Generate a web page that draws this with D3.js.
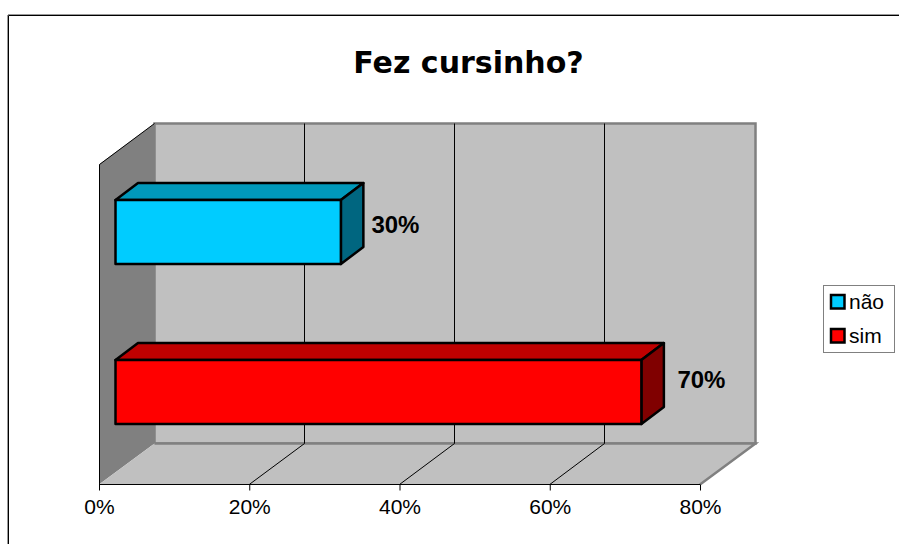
<!DOCTYPE html>
<html>
<head>
<meta charset="utf-8">
<script src="https://cdn.jsdelivr.net/npm/d3@7"></script>
<style>
html, body { margin: 0; padding: 0; background: #fff; }
svg { display: block; }
text { font-family: "Liberation Sans", Arial, sans-serif; fill: #000; }
</style>
</head>
<body>
<div id="chart"></div>
<script>
var categories = ['não', 'sim']
var values = [30, 70]
var ticks = [0, 20, 40, 60, 80]
var title = 'Fez cursinho?'

var colors = {'não': ['#00ccff', '#0099bb', '#006680'], 'sim': ['#ff0000', '#bf0000', '#800000']}

var svg = d3.select('#chart').append('svg').attr('width', 899).attr('height', 544)

// depth of the 3d box, in px
var dx = 55.5, dy = -41
var barDx = 22.5, barDy = -17
var barInset = 16.5

var x = d3.scaleLinear().domain([0, 80]).range([99, 700])
var y = d3.scaleBand().domain(categories).range([152, 472]).paddingInner(0.6).paddingOuter(0.3)
var plotTop = 164.5, plotBottom = 484.5

// label nudges off the bar end, the two labels do not sit alike
var labelGap = [8, 13.5]
var labelBase = [1, -4]

var poly = d3.line()
var crisp = function(v) { return Math.floor(v) + 0.5 }

// frame, only top and left are visible
svg.append('path').attr('d', 'M899,14.5H8').attr('fill', 'none').attr('stroke', '#999').attr('stroke-width', 1)
svg.append('path').attr('d', 'M8.5,544V15.5H899').attr('fill', 'none').attr('stroke', '#000').attr('stroke-width', 1)
svg.append('path').attr('d', 'M7.5,544V15').attr('fill', 'none').attr('stroke', '#999').attr('stroke-width', 1)

svg.append('text').attr('x', 468.5).attr('y', 72.5).attr('text-anchor', 'middle')
  .style('font-family', '"DejaVu Sans"').style('font-weight', 'bold').style('font-size', '30px').text(title)

var backL = x(0) + dx, backR = x(80) + dx, backT = plotTop + dy, backB = plotBottom + dy

// back wall
svg.append('path')
  .attr('d', poly([[backL, backT], [backR, backT], [backR, backB], [backL, backB]]) + 'Z')
  .attr('fill', '#c0c0c0').attr('stroke', '#808080').attr('stroke-width', 2.5)

// left wall
svg.append('path')
  .attr('d', poly([[x(0), plotTop], [backL, backT], [backL, backB], [x(0), plotBottom]]) + 'Z')
  .attr('fill', '#808080')
svg.append('path')
  .attr('d', poly([[backL, backT], [crisp(x(0)), plotTop], [crisp(x(0)), plotBottom]]))
  .attr('fill', 'none').attr('stroke', '#000').attr('stroke-width', 1)

// floor
svg.append('path')
  .attr('d', poly([[x(0), plotBottom], [x(80), plotBottom], [backR, backB], [backL, backB]]) + 'Z')
  .attr('fill', '#c0c0c0')
svg.append('path')
  .attr('d', poly([[x(80), plotBottom], [backR, backB], [backL, backB]]))
  .attr('fill', 'none').attr('stroke', '#808080').attr('stroke-width', 2.5)

// gridlines
var inner = ticks.slice(1, -1)
svg.selectAll('path.grid').data(inner).enter().append('path').attr('class', 'grid')
  .attr('d', function(d) {
    var gx = crisp(x(d) + dx - 0.6)
    return poly([[x(d), plotBottom], [gx, backB], [gx, backT]])
  })
  .attr('fill', 'none').attr('stroke', '#000').attr('stroke-width', 1)

// x axis
var axis = d3.axisBottom(x).tickValues(ticks).tickSize(6).tickPadding(9).tickFormat(function(d) { return d + '%' })
var axisSel = svg.append('g').attr('transform', 'translate(0,' + plotBottom + ')').call(axis)
axisSel.select('.domain').attr('stroke', '#000').attr('d', 'M' + x(0) + ',0H' + x(80))
axisSel.selectAll('text').style('font-size', '21px').style('font-family', '"Liberation Sans"').attr('fill', '#000')

// bars
var bars = svg.selectAll('g.bar').data(categories).enter().append('g').attr('class', 'bar')

bars.each(function(c, i) {
  var g = d3.select(this)
  var x0 = x(0) + barInset, x1 = x0 + x(values[i]) - x(0)
  var y0 = y(c), y1 = y0 + y.bandwidth()
  var faces = [
    [[x0, y0], [x1, y0], [x1 + barDx, y0 + barDy], [x0 + barDx, y0 + barDy]],
    [[x1, y0], [x1 + barDx, y0 + barDy], [x1 + barDx, y1 + barDy], [x1, y1]],
    [[x0, y0], [x1, y0], [x1, y1], [x0, y1]]
  ]
  var fills = [colors[c][1], colors[c][2], colors[c][0]]
  faces.forEach(function(f, k) {
    g.append('path').attr('d', poly(f) + 'Z').attr('fill', fills[k])
      .attr('stroke', '#000').attr('stroke-width', 2.5).attr('stroke-linejoin', 'round')
  })
  g.append('text').attr('x', x1 + barDx + labelGap[i]).attr('y', (y0 + y1) / 2 + labelBase[i])
    .style('font-size', '24px').style('font-weight', 'bold').text(values[i] + '%')
})

// legend
var legend = svg.append('g').attr('transform', 'translate(823,285)')
legend.append('rect').attr('x', 0.5).attr('y', 0.5).attr('width', 71).attr('height', 67)
  .attr('fill', '#fff').attr('stroke', '#808080').attr('stroke-width', 1)
categories.forEach(function(c, i) {
  var g = legend.append('g').attr('transform', 'translate(0,' + (i * 34) + ')')
  g.append('rect').attr('x', 8).attr('y', 10).attr('width', 13.5).attr('height', 13.5)
    .attr('fill', colors[c][0]).attr('stroke', '#000').attr('stroke-width', 2.5)
  g.append('text').attr('x', 26).attr('y', 24).style('font-size', '21px').text(c)
})
</script>
</body>
</html>
